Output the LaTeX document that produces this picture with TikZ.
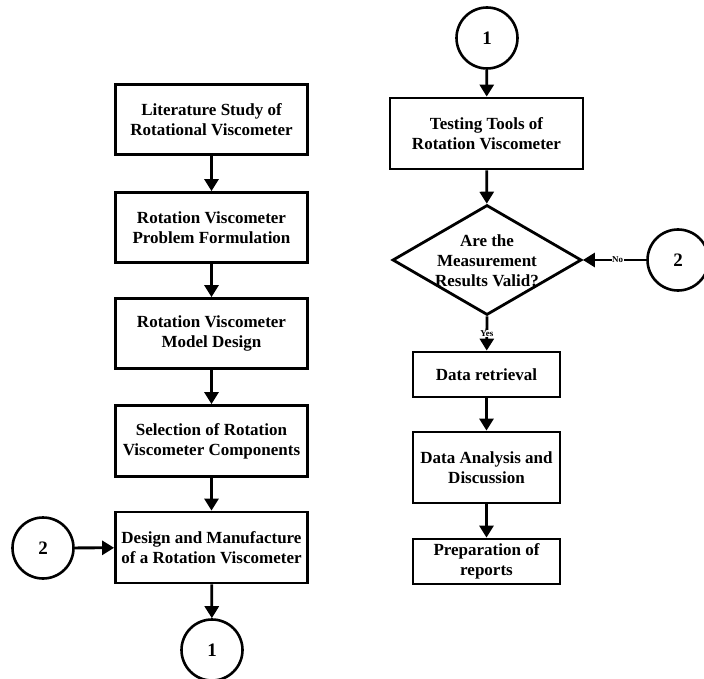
\documentclass[tikz,border=0pt]{standalone}
\usepackage{fontspec}
\setmainfont{Liberation Serif}
\usetikzlibrary{arrows.meta,shapes.geometric}
\tikzset{
  every node/.style={font=\bfseries\fontsize{17}{20}\selectfont},
  procbox/.style={draw, line width=2.8pt, rectangle, align=center, inner sep=0pt},
  bigbox/.style={procbox, minimum width=192pt, minimum height=70pt},
  smallbox/.style={procbox, minimum width=147pt},
  conn/.style={draw, circle, line width=2.6pt, minimum size=61pt, inner sep=0pt, font=\bfseries\fontsize{19}{22}\selectfont},
  flow/.style={line width=2.8pt, -{Triangle[length=12pt,width=14pt]}},
  tag/.style={fill=white, inner sep=0.5pt, font=\bfseries\fontsize{9}{10}\selectfont}
}
\begin{document}
\begin{tikzpicture}[x=1pt,y=-1pt]
\useasboundingbox (0,0) rectangle (704,679);
% left column
\node[bigbox] (l1) at (211.5,119.5) {Literature Study of\\Rotational Viscometer};
\node[bigbox] (l2) at (211.5,227.5) {Rotation Viscometer\\Problem Formulation};
\node[bigbox] (l3) at (211.5,333.5) {Rotation Viscometer\\Model Design};
\node[bigbox, minimum height=71pt] (l4) at (211.5,441) {Selection of Rotation\\Viscometer Components};
\node[bigbox, minimum height=71pt] (l5) at (211.5,547.5) {Design and Manufacture\\of a Rotation Viscometer};
\node[conn] (c2l) at (43,548) {2};
\node[conn] (c1b) at (212,650) {1};
\draw[flow] (l1) -- (l2);
\draw[flow] (l2) -- (l3);
\draw[flow] (l3) -- (l4);
\draw[flow] (l4) -- (l5);
\draw[flow] (c2l) -- (l5);
\draw[flow] (l5) -- (c1b);
% right column
\node[conn] (c1t) at (487,38) {1};
\node[bigbox, minimum width=193pt, minimum height=71pt] (r1) at (486.5,133.5) {Testing Tools of\\Rotation Viscometer};
\node[diamond, draw, line width=2.8pt, minimum width=189pt, minimum height=110pt, inner sep=0pt] (dec) at (487,260) {};
\node[align=center] (dectext) at (487,261) {Are the\\Measurement\\Results Valid?};
\node[conn] (c2r) at (678,260) {2};
\node[smallbox, minimum height=45pt] (r2) at (486.5,374.5) {Data retrieval};
\node[smallbox, minimum height=71pt] (r3) at (486.5,467.5) {Data Analysis and\\Discussion};
\node[smallbox, minimum height=45pt] (r4) at (486.5,561.5) {Preparation of\\reports};
\draw[flow] (c1t) -- (r1);
\draw[flow] (r1) -- (dec);
\draw[flow] (c2r) -- node[tag, pos=0.45] {No} (dec.east);
\draw[flow] (dec.south) -- node[tag, pos=0.5] {Yes} (r2);
\draw[flow] (r2) -- (r3);
\draw[flow] (r3) -- (r4);
\end{tikzpicture}
\end{document}
